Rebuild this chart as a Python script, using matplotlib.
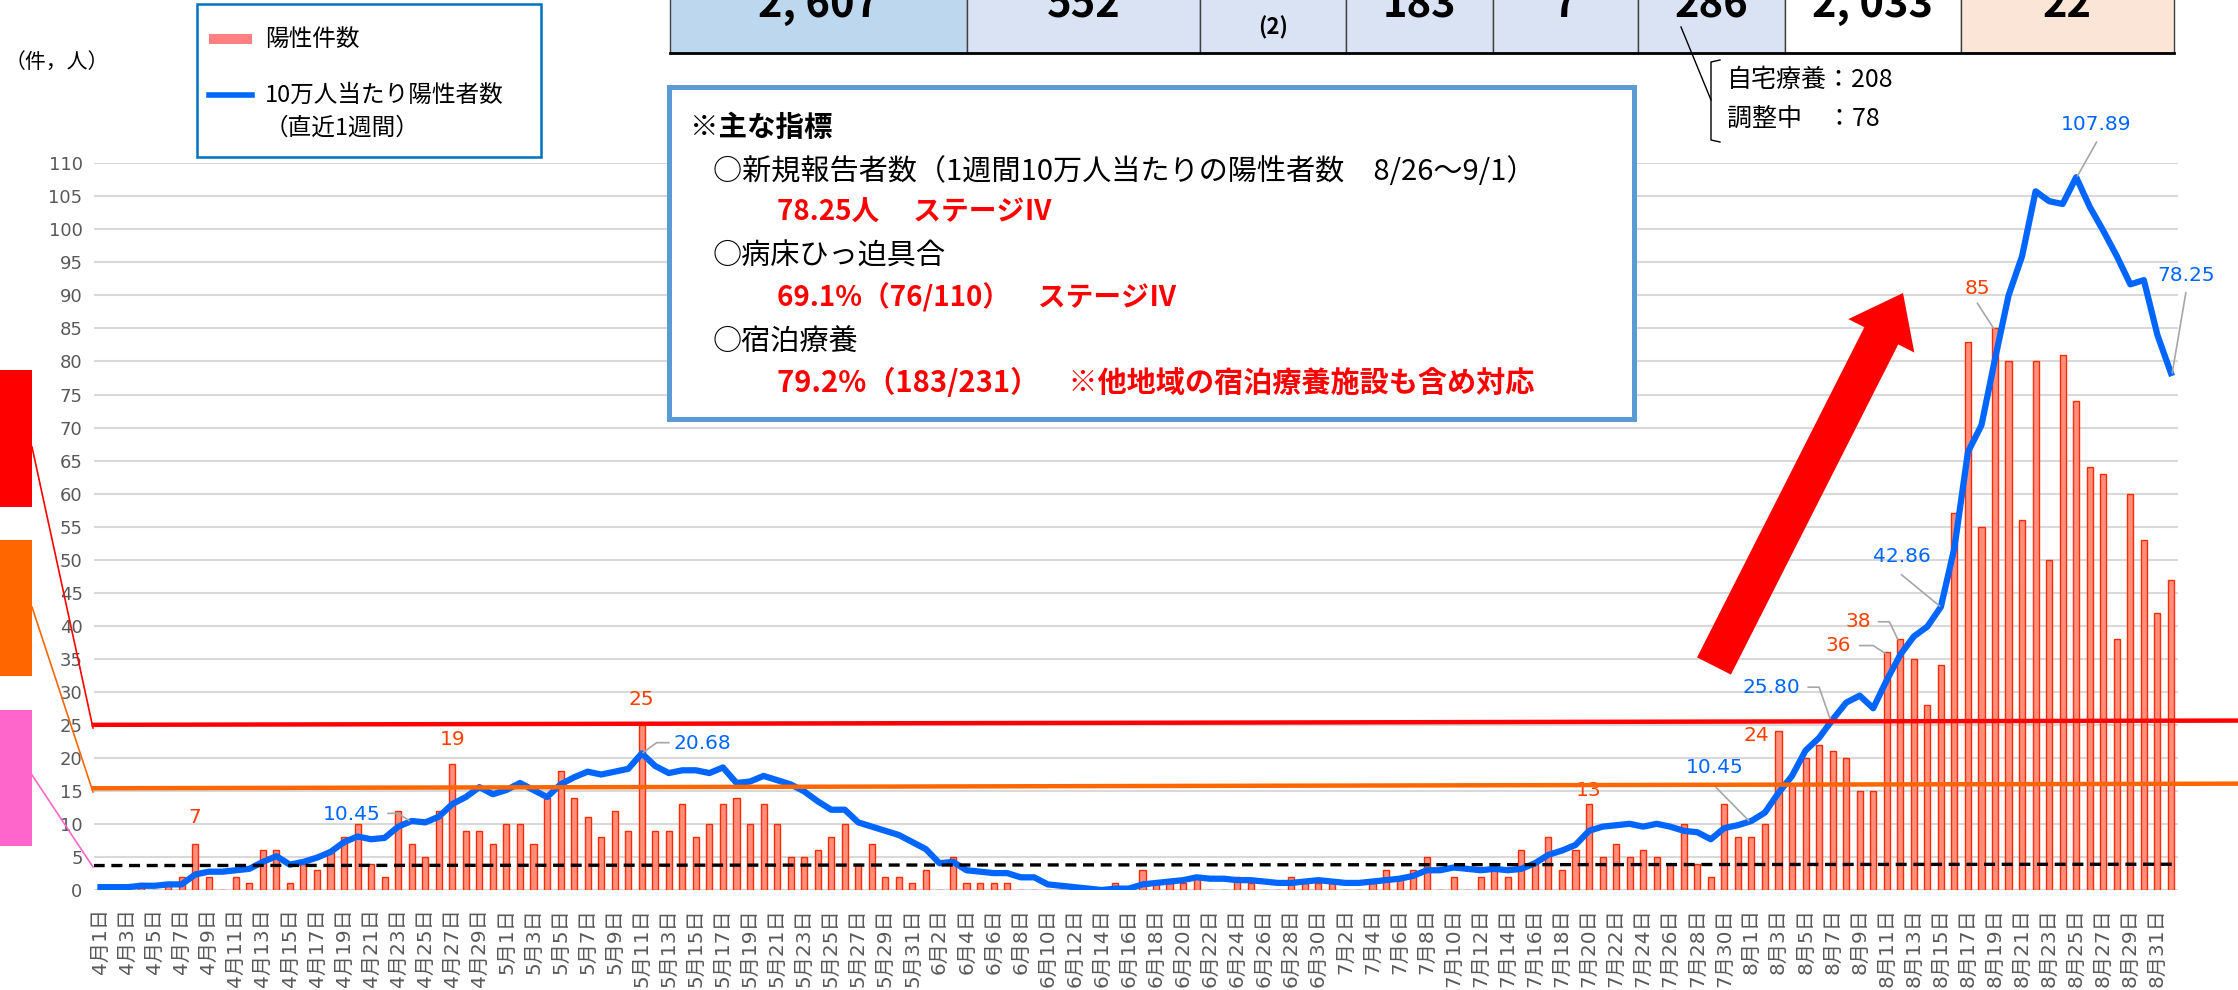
import numpy as np
import matplotlib
matplotlib.use("Agg")
import matplotlib.pyplot as plt
from matplotlib.patches import Rectangle, FancyArrow
from matplotlib.lines import Line2D
from matplotlib.transforms import IdentityTransform

plt.rcParams['font.family'] = ['Noto Sans CJK JP', 'DejaVu Sans']

# daily positive cases (Apr 1 - Sep 1)
cases_apr = [0, 0, 0, 1, 0, 1, 2, 7, 2, 0, 2, 1, 6, 6, 1, 4, 3, 6, 8, 10,
             4, 2, 12, 7, 5, 12, 19, 9, 9, 7]
cases_may = [10, 10, 7, 14, 18, 14, 11, 8, 12, 9, 25, 9, 9, 13, 8, 10, 13, 14, 10, 13,
             10, 5, 5, 6, 8, 10, 4, 7, 2, 2, 1]
cases_jun = [3, 0, 5, 1, 1, 1, 1, 0, 0, 0, 0, 0, 0, 0, 1, 0, 3, 1, 1, 1,
             2, 0, 0, 2, 1, 0, 0, 2, 1, 1]
cases_jul = [1, 0, 0, 1, 3, 2, 3, 5, 0, 2, 0, 2, 3, 2, 6, 4, 8, 3, 6, 13,
             5, 7, 5, 6, 5, 4, 10, 4, 2, 13, 8]
cases_aug = [8, 10, 24, 16, 20, 22, 21, 20, 15, 15, 36, 38, 35, 28, 34, 57, 83, 55, 85, 80,
             56, 80, 50, 81, 74, 64, 63, 38, 60, 53, 42]
cases_sep = [47]

# positives per 100k, last 7 days
rate_apr = [0.43, 0.43, 0.43, 0.64, 0.64, 0.85, 0.85, 2.35, 2.77, 2.77, 2.99, 3.20, 4.26, 5.12,
            3.84, 4.26, 4.90, 5.76, 7.25, 8.10, 7.68, 7.89, 9.59, 10.45, 10.23, 11.09, 13.01,
            14.07, 15.57, 14.50]
rate_may = [15.14, 16.20, 15.14, 14.07, 15.99, 17.06, 17.91, 17.48, 17.91, 18.34, 20.68, 18.76,
            17.70, 18.12, 18.12, 17.70, 18.55, 16.20, 16.42, 17.27, 16.63, 15.99, 14.93, 13.43,
            12.15, 12.15, 10.23, 9.59, 8.96, 8.32, 7.25]
rate_jun = [6.18, 4.05, 4.26, 2.99, 2.77, 2.56, 2.56, 1.92, 1.92, 0.85, 0.64, 0.43, 0.21, 0.0,
            0.21, 0.21, 0.85, 1.07, 1.28, 1.49, 1.92, 1.71, 1.71, 1.49, 1.49, 1.28, 1.07, 1.07,
            1.28, 1.49]
rate_jul = [1.28, 1.07, 1.07, 1.28, 1.49, 1.71, 2.13, 2.99, 2.99, 3.41, 3.20, 2.99, 3.20, 2.99,
            3.20, 4.05, 5.33, 5.97, 6.82, 8.96, 9.59, 9.81, 10.02, 9.59, 10.02, 9.59, 8.96, 8.74,
            7.68, 9.38, 9.81]
rate_aug = [10.45, 11.73, 14.71, 17.27, 21.11, 23.03, 25.80, 28.36, 29.42, 27.51, 31.77, 35.61,
            38.38, 39.87, 42.86, 51.81, 66.31, 70.36, 80.38, 89.98, 95.95, 105.76, 104.26,
            103.84, 107.89, 103.41, 99.79, 95.95, 91.68, 92.32, 84.01]
rate_sep = [78.25]

month_days = [(4, 30), (5, 31), (6, 30), (7, 31), (8, 31), (9, 1)]

cases = cases_apr + cases_may + cases_jun + cases_jul + cases_aug + cases_sep
rate = rate_apr + rate_may + rate_jun + rate_jul + rate_aug + rate_sep
dates = [f"{m}月{d}日" for m, n in month_days for d in range(1, n + 1)]
x = np.arange(len(cases))

W, H = 2238, 990


def P(px, py):
    return px / W, 1 - py / H


fig = plt.figure(figsize=(W / 100, H / 100), dpi=100)
ax = fig.add_axes([93.7 / W, 1 - 890 / H, 2084 / W, (890 - 163.3) / H])

ax.bar(x, cases, width=0.45, color='#FF8F7A', edgecolor='#FF2B00', lw=1.0, zorder=2)
ax.plot(x, rate, color='#0066FF', lw=4.5, zorder=4, solid_joinstyle='round')

ax.set_xlim(-0.5, len(cases) - 0.5)
ax.set_ylim(0, 110)
ax.set_yticks(np.arange(0, 111, 5))
ax.yaxis.grid(True, color='#D9D9D9', lw=1.5)
ax.set_axisbelow(True)
for s in ax.spines.values():
    s.set_visible(False)
ax.tick_params(axis='y', length=0, pad=8, labelsize=13, labelcolor='#595959')
ax.tick_params(axis='x', length=0, pad=13)
ax.set_xticks(x[::2])
ax.set_xticklabels(dates[::2], rotation=90, fontsize=14.5, color='#595959',
                   family=['DejaVu Sans', 'Noto Sans CJK JP'], va='top')
for lab in ax.get_yticklabels():
    lab.set_family('DejaVu Sans')

# threshold lines
ax.plot([-0.5, 158.5], [25.0, 25.65], color='#FF0000', lw=3.2, clip_on=False, zorder=5)
ax.plot([-0.5, 158.5], [15.4, 16.1], color='#FF6600', lw=3.2, clip_on=False, zorder=5)
ax.plot([-0.5, 153.5], [3.7, 3.9], color='black', lw=2.4, ls=(0, (3.3, 2.0)), zorder=5)

# data labels
bar_col = '#FF3F00'
line_col = '#0066FF'
for xi, yi, t in [(7, 10.9, '7'), (26, 22.8, '19'), (40, 28.8, '25'), (110, 15.0, '13'),
                  (122.4, 23.4, '24'), (128.4, 37.0, '36'), (129.9, 40.6, '38'),
                  (138.7, 91.0, '85')]:
    ax.text(xi, yi, t, color=bar_col, fontsize=14.5, ha='center', va='center',
            family='DejaVu Sans', zorder=3)
for xi, yi, t in [(18.6, 11.4, '10.45'), (44.5, 22.2, '20.68'), (119.3, 18.5, '10.45'),
                  (123.5, 30.6, '25.80'), (133.1, 50.5, '42.86'), (147.5, 115.8, '107.89'),
                  (154.1, 93.0, '78.25')]:
    ax.text(xi, yi, t, color=line_col, fontsize=14.5, ha='center', va='center',
            family='DejaVu Sans', zorder=6, clip_on=False)
leaders = [
    ([130.0, 131.0, 131.9], [37.0, 37.0, 35.8]),
    ([131.4, 132.2, 132.8], [40.6, 40.6, 38.0]),
    ([138.7, 139.9], [88.8, 85.0]),
    ([21.25, 22.0, 22.8], [11.6, 11.6, 10.5]),
    ([42.0, 41.1, 40.1], [22.3, 22.3, 20.8]),
    ([119.4, 121.8], [15.5, 10.5]),
    ([126.2, 127.0, 127.8], [30.7, 30.7, 26.0]),
    ([133.1, 135.9], [47.7, 43.0]),
    ([147.5, 146.1], [113.2, 108.1]),
    ([154.1, 153.1], [90.4, 78.3]),
]
for lx, ly in leaders:
    ax.plot(lx, ly, color='#A6A6A6', lw=1.2, zorder=6, clip_on=False)

# left stage boxes and connectors
for (y0, y1), c, (cy0, cy1) in [((370, 507), '#FF0000', (447, 728)),
                                ((540, 676), '#FF6600', (607, 792)),
                                ((710, 846), '#FF66CC', (775, 867))]:
    fig.add_artist(Rectangle(P(0, y1), 32 / W, (y1 - y0) / H, transform=fig.transFigure,
                             color=c, lw=0))
    fig.add_artist(Line2D([32 / W, 93 / W], [1 - cy0 / H, 1 - cy1 / H],
                          transform=fig.transFigure, color=c, lw=1.2))

# y unit label
fig.text(*P(5, 62), '（件，人）', fontsize=15, va='center', ha='left')

# legend box
fig.add_artist(Rectangle(P(197, 157), (541 - 197) / W, (157 - 4) / H, transform=fig.transFigure,
                         facecolor='white', edgecolor='#0070C0', lw=1.8))
fig.add_artist(Rectangle(P(209, 44), 43 / W, 10 / H, transform=fig.transFigure,
                         color='#FF8080', lw=0))
fig.add_artist(Line2D([209 / W, 252 / W], [1 - 95 / H] * 2, transform=fig.transFigure,
                      color='#0066FF', lw=4))
fig.text(*P(265, 40), '陽性件数', fontsize=17, va='center')
fig.text(*P(265, 95), '10万人当たり陽性者数', fontsize=17, va='center')
fig.text(*P(265, 128), '（直近1週間）', fontsize=17, va='center')

# top table
col_edges = [670, 967, 1200, 1346, 1493, 1638, 1785, 1961, 2174]
col_colors = ['#BDD7EE', '#DAE3F3', '#DAE3F3', '#DAE3F3', '#DAE3F3', '#DAE3F3', 'white', '#FBE5D6']
col_texts = ['2, 607', '552', '(2)', '183', '7', '286', '2, 033', '22']
for i in range(len(col_texts)):
    xa, xb = col_edges[i], col_edges[i + 1]
    fig.add_artist(Rectangle(P(xa, 53), (xb - xa) / W, 80 / H, transform=fig.transFigure,
                             facecolor=col_colors[i], edgecolor='#404040', lw=1.0))
    if col_texts[i] == '(2)':
        fig.text(*P((xa + xb) / 2, 28), col_texts[i], fontsize=16, fontweight='bold',
                 ha='center', va='center')
    else:
        fig.text(*P((xa + xb) / 2, 17), col_texts[i], fontsize=30, fontweight='bold',
                 ha='center', va='baseline')
fig.add_artist(Line2D([670 / W, 2174 / W], [1 - 53 / H] * 2, transform=fig.transFigure,
                      color='black', lw=2))

# home care callout
fig.add_artist(Line2D([1681 / W, 1711 / W], [1 - 27 / H, 1 - 100 / H],
                      transform=fig.transFigure, color='black', lw=1))
fig.add_artist(Line2D([1720 / W, 1711 / W, 1711 / W, 1720 / W],
                      [1 - 60 / H, 1 - 62 / H, 1 - 140 / H, 1 - 142 / H],
                      transform=fig.transFigure, color='black', lw=1))
fig.text(*P(1727, 80), '自宅療養：208', fontsize=18, va='center')
fig.text(*P(1727, 119), '調整中　：78', fontsize=18, va='center')

# info box
fig.add_artist(Rectangle(P(669, 419), (1634 - 669) / W, (419 - 87) / H, transform=fig.transFigure,
                         facecolor='white', edgecolor='#5B9BD5', lw=3.6))
fig.text(*P(690, 128), '※主な指標', fontsize=20.5, fontweight='bold', va='center')
info_lines = [
    (713, 172, '○新規報告者数（1週間10万人当たりの陽性者数　8/26～9/1）', 'black', 'normal', 21),
    (777, 213, '78.25人　 ステージⅣ', '#FF0000', 'bold', 20),
    (713, 257, '○病床ひっ迫具合', 'black', 'normal', 21),
    (777, 298, '69.1%（76/110）　ステージⅣ', '#FF0000', 'bold', 20),
    (713, 343, '○宿泊療養', 'black', 'normal', 21),
    (777, 383, '79.2%（183/231）　※他地域の宿泊療養施設も含め対応', '#FF0000', 'bold', 21),
]
for px_, py_, t, c, w, fs in info_lines:
    fig.text(*P(px_, py_), t, fontsize=fs, color=c, fontweight=w, va='center')

# big red arrow
fig.add_artist(FancyArrow(1714, H - 666, 189, 373, width=38, head_width=74, head_length=48,
                          length_includes_head=True, color='#FF0000', lw=0,
                          transform=IdentityTransform()))

fig.savefig('out.png', dpi=100)
